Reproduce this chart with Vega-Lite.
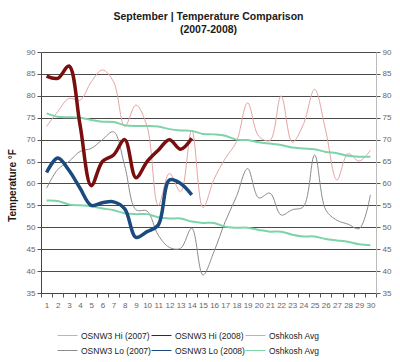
{
"$schema": "https://vega.github.io/schema/vega-lite/v6.json",
"width": 335, "height": 241,
"autosize": {"type": "none"},
"padding": {"left": 41, "top": 52, "right": 24, "bottom": 69},
"background": "white",
"title": {"text": ["September | Temperature  Comparison", "(2007-2008)"], "font": "Liberation Sans", "fontSize": 10.5, "fontWeight": "bold", "color": "#1a1a1a", "offset": 13, "lineHeight": 13, "anchor": "middle"},
"config": {"view": {"stroke": null}, "axis": {"labelFont": "Liberation Sans", "labelFontSize": 8, "labelColor": "#666666", "tickColor": "#555555", "domainColor": "#555555", "tickSize": 4, "labelPadding": 2}},
"datasets": {"t": [
{"day":1,"series":"h07","temp":73},{"day":2,"series":"h07","temp":76.4},{"day":3,"series":"h07","temp":79.4},{"day":4,"series":"h07","temp":79},{"day":5,"series":"h07","temp":83.2},{"day":6,"series":"h07","temp":85.9},{"day":7,"series":"h07","temp":83.2},{"day":8,"series":"h07","temp":73},{"day":9,"series":"h07","temp":77.9},{"day":10,"series":"h07","temp":73},{"day":11,"series":"h07","temp":55},{"day":12,"series":"h07","temp":62.3},{"day":13,"series":"h07","temp":58.1},{"day":14,"series":"h07","temp":72.2},{"day":15,"series":"h07","temp":54.5},{"day":16,"series":"h07","temp":61},{"day":17,"series":"h07","temp":65.7},{"day":18,"series":"h07","temp":69.5},{"day":19,"series":"h07","temp":78.4},{"day":20,"series":"h07","temp":70.8},{"day":21,"series":"h07","temp":69.8},{"day":22,"series":"h07","temp":80},{"day":23,"series":"h07","temp":69.4},{"day":24,"series":"h07","temp":73.5},{"day":25,"series":"h07","temp":81.5},{"day":26,"series":"h07","temp":72},{"day":27,"series":"h07","temp":60.8},{"day":28,"series":"h07","temp":66.8},{"day":29,"series":"h07","temp":65.1},{"day":30,"series":"h07","temp":67.6},
{"day":1,"series":"l07","temp":58.9},{"day":2,"series":"l07","temp":63.2},{"day":3,"series":"l07","temp":65},{"day":4,"series":"l07","temp":67.3},{"day":5,"series":"l07","temp":68},{"day":6,"series":"l07","temp":70},{"day":7,"series":"l07","temp":71.8},{"day":8,"series":"l07","temp":64},{"day":9,"series":"l07","temp":54},{"day":10,"series":"l07","temp":53.7},{"day":11,"series":"l07","temp":48.2},{"day":12,"series":"l07","temp":45.4},{"day":13,"series":"l07","temp":45.2},{"day":14,"series":"l07","temp":49.8},{"day":15,"series":"l07","temp":39.1},{"day":16,"series":"l07","temp":44.5},{"day":17,"series":"l07","temp":51.3},{"day":18,"series":"l07","temp":57},{"day":19,"series":"l07","temp":63.4},{"day":20,"series":"l07","temp":56.7},{"day":21,"series":"l07","temp":57.8},{"day":22,"series":"l07","temp":52.8},{"day":23,"series":"l07","temp":54},{"day":24,"series":"l07","temp":54.7},{"day":25,"series":"l07","temp":66.5},{"day":26,"series":"l07","temp":54},{"day":27,"series":"l07","temp":51.6},{"day":28,"series":"l07","temp":50.7},{"day":29,"series":"l07","temp":49.7},{"day":30,"series":"l07","temp":57.4},
{"day":1,"series":"ah","temp":76},{"day":2,"series":"ah","temp":75.2},{"day":3,"series":"ah","temp":75.1},{"day":4,"series":"ah","temp":75},{"day":5,"series":"ah","temp":74.5},{"day":6,"series":"ah","temp":74.1},{"day":7,"series":"ah","temp":74},{"day":8,"series":"ah","temp":73.3},{"day":9,"series":"ah","temp":73.1},{"day":10,"series":"ah","temp":73.1},{"day":11,"series":"ah","temp":73},{"day":12,"series":"ah","temp":72.4},{"day":13,"series":"ah","temp":72.1},{"day":14,"series":"ah","temp":72},{"day":15,"series":"ah","temp":71.3},{"day":16,"series":"ah","temp":71.2},{"day":17,"series":"ah","temp":70.9},{"day":18,"series":"ah","temp":70},{"day":19,"series":"ah","temp":69.9},{"day":20,"series":"ah","temp":69.4},{"day":21,"series":"ah","temp":69.1},{"day":22,"series":"ah","temp":68.8},{"day":23,"series":"ah","temp":68.2},{"day":24,"series":"ah","temp":68},{"day":25,"series":"ah","temp":67.8},{"day":26,"series":"ah","temp":67.2},{"day":27,"series":"ah","temp":66.9},{"day":28,"series":"ah","temp":66.3},{"day":29,"series":"ah","temp":66.1},{"day":30,"series":"ah","temp":66.1},
{"day":1,"series":"al","temp":56.1},{"day":2,"series":"al","temp":56},{"day":3,"series":"al","temp":55.2},{"day":4,"series":"al","temp":55},{"day":5,"series":"al","temp":54.8},{"day":6,"series":"al","temp":54.3},{"day":7,"series":"al","temp":53.9},{"day":8,"series":"al","temp":53.2},{"day":9,"series":"al","temp":53},{"day":10,"series":"al","temp":53},{"day":11,"series":"al","temp":52.3},{"day":12,"series":"al","temp":52},{"day":13,"series":"al","temp":52},{"day":14,"series":"al","temp":51.3},{"day":15,"series":"al","temp":51},{"day":16,"series":"al","temp":51},{"day":17,"series":"al","temp":50.1},{"day":18,"series":"al","temp":49.9},{"day":19,"series":"al","temp":49.9},{"day":20,"series":"al","temp":49.4},{"day":21,"series":"al","temp":49},{"day":22,"series":"al","temp":49},{"day":23,"series":"al","temp":48.3},{"day":24,"series":"al","temp":47.9},{"day":25,"series":"al","temp":47.9},{"day":26,"series":"al","temp":47.3},{"day":27,"series":"al","temp":47},{"day":28,"series":"al","temp":46.7},{"day":29,"series":"al","temp":46.1},{"day":30,"series":"al","temp":45.9},
{"day":1,"series":"h08","temp":84.5},{"day":2,"series":"h08","temp":84},{"day":3,"series":"h08","temp":86.8},{"day":4,"series":"h08","temp":73.3},{"day":5,"series":"h08","temp":59.5},{"day":6,"series":"h08","temp":65},{"day":7,"series":"h08","temp":66.5},{"day":8,"series":"h08","temp":70},{"day":9,"series":"h08","temp":61.3},{"day":10,"series":"h08","temp":65},{"day":11,"series":"h08","temp":67.6},{"day":12,"series":"h08","temp":70},{"day":13,"series":"h08","temp":67.8},{"day":14,"series":"h08","temp":70.3},
{"day":1,"series":"l08","temp":62.5},{"day":2,"series":"l08","temp":65.8},{"day":3,"series":"l08","temp":63},{"day":4,"series":"l08","temp":58.9},{"day":5,"series":"l08","temp":55},{"day":6,"series":"l08","temp":55.6},{"day":7,"series":"l08","temp":55.8},{"day":8,"series":"l08","temp":54.2},{"day":9,"series":"l08","temp":47.7},{"day":10,"series":"l08","temp":49},{"day":11,"series":"l08","temp":50.5},{"day":12,"series":"l08","temp":60.8},{"day":13,"series":"l08","temp":60},{"day":14,"series":"l08","temp":57.4}
]},
"data": {"name": "t"},
"layer": [
{"transform": [{"filter": "datum.series == 'h07' || datum.series == 'l07'"}],
 "mark": {"type": "line", "interpolate": "catmull-rom", "strokeWidth": 1},
 "encoding": {
  "x": {"field": "day", "type": "ordinal", "bandPosition": 0.5, "scale": {"type": "band", "paddingInner": 0, "paddingOuter": 0}, "axis": {"title": null, "labelAngle": 0, "tickBand": "extent", "grid": false, "domainColor": "#444444", "labelPadding": 4}},
  "y": {"field": "temp", "type": "quantitative", "scale": {"domain": [35, 90], "nice": false, "zero": false}, "axis": {"values": [35,40,45,50,55,60,65,70,75,80,85,90], "grid": true, "gridColor": "#4a4a4a", "gridWidth": 1, "domainColor": "#444444", "title": "Temperature °F", "titleFont": "Liberation Sans", "titleFontSize": 10, "titleFontWeight": "bold", "titleColor": "#1a1a1a", "titleX": -29, "titleY": 133, "titleAngle": -90, "titleBaseline": "middle", "titleAlign": "center"}},
  "color": {"field": "series", "type": "nominal", "scale": {"domain": ["h07","h08","ah","l07","l08","al"], "range": ["#E6A3A3","#7A0E0E","#7FD3A8","#8C8C8C","#1A4A7E","#7FD3A8"]},
   "legend": {"title": null, "orient": "none", "legendX": 16, "legendY": 273, "direction": "horizontal", "columns": 3, "symbolType": "stroke", "symbolSize": 400, "symbolStrokeWidth": 1, "labelFont": "Liberation Sans", "labelFontSize": 8.5, "labelColor": "#222222", "labelOffset": 3, "columnPadding": -28, "rowPadding": -6,
    "labelExpr": "datum.value == 'h07' ? 'OSNW3 Hi (2007)' : datum.value == 'h08' ? 'OSNW3 Hi (2008)' : datum.value == 'l07' ? 'OSNW3 Lo (2007)' : datum.value == 'l08' ? 'OSNW3 Lo (2008)' : 'Oshkosh Avg'"}}
 }},
{"transform": [{"filter": "datum.series == 'ah' || datum.series == 'al'"}],
 "mark": {"type": "line", "interpolate": "catmull-rom", "strokeWidth": 2},
 "encoding": {
  "x": {"field": "day", "type": "ordinal", "bandPosition": 0.5},
  "y": {"field": "temp", "type": "quantitative", "axis": null},
  "color": {"field": "series", "type": "nominal"}
 }},
{"transform": [{"filter": "datum.series == 'h08' || datum.series == 'l08'"}],
 "mark": {"type": "line", "interpolate": "catmull-rom", "strokeWidth": 3.5},
 "encoding": {
  "x": {"field": "day", "type": "ordinal", "bandPosition": 0.5},
  "y": {"field": "temp", "type": "quantitative", "axis": null},
  "color": {"field": "series", "type": "nominal"}
 }},
{"mark": {"type": "line", "opacity": 0},
 "encoding": {
  "x": {"field": "day", "type": "ordinal", "bandPosition": 0.5},
  "y": {"field": "temp", "type": "quantitative", "axis": {"orient": "right", "values": [35,40,45,50,55,60,65,70,75,80,85,90], "grid": false, "title": null, "domainColor": "#bbbbbb"}},
  "detail": {"field": "series"}
 }}
],
"resolve": {"axis": {"y": "independent"}}
}
